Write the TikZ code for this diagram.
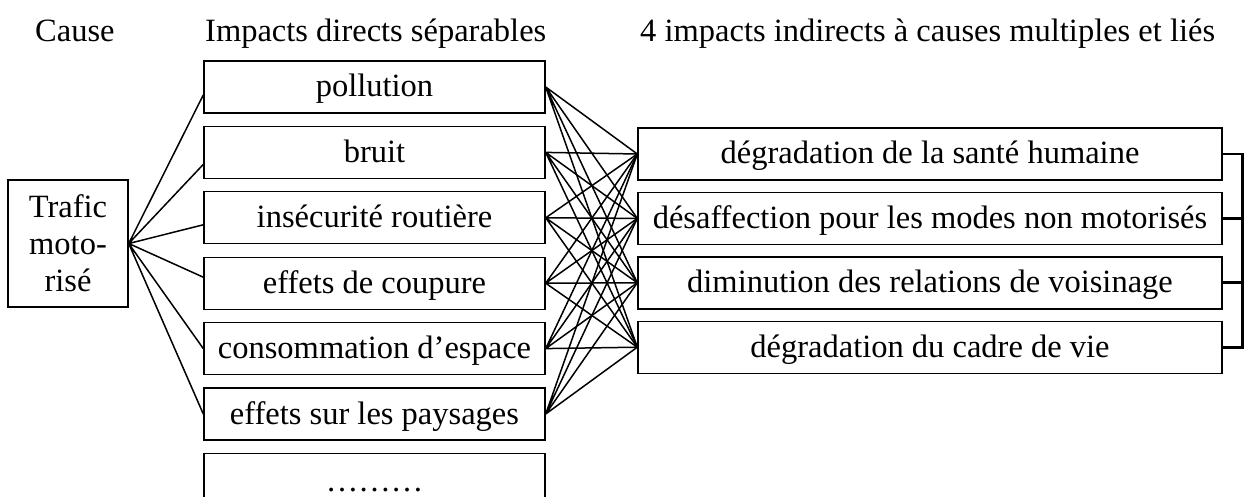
\documentclass[tikz,border=0pt]{standalone}
\usepackage{fontspec}
\setmainfont{Liberation Serif}
\usepackage{tikz}
\usetikzlibrary{positioning}

\begin{document}
\begin{tikzpicture}[x=1pt, y=-1pt, node distance=12pt,
    every node/.style={font=\fontsize{32.5}{37}\selectfont},
    cause/.style={rectangle, draw, line width=1.4pt, minimum width=120pt, minimum height=127pt, align=center, inner sep=0pt},
    direct/.style={rectangle, draw, line width=1.4pt, minimum width=341pt, minimum height=52pt, inner sep=0pt, text height=21pt, text depth=1pt},
    indirect/.style={rectangle, draw, line width=1.4pt, minimum width=584pt, minimum height=52pt, inner sep=0pt, text height=21pt, text depth=1pt},
    link/.style={line width=1.5pt},
    bracket/.style={line width=2.8pt}]

    \useasboundingbox (0,0) rectangle (1245,497);

    % headers
    \node[anchor=base west, inner sep=0pt] (hcause) at (35,42) {Cause};
    \node[anchor=base west, inner sep=0pt] (hdirect) at (205,42) {Impacts directs séparables};
    \node[anchor=base west, inner sep=0pt] (hindirect) at (640,42) {4 impacts indirects à causes multiples et liés};

    \node[cause] (trafic) at (68,243.5) {Trafic\\moto-\\risé};

    \node[direct] (pollution) at (374.5,87) {pollution};
    \node[direct, below=of pollution] (bruit) {bruit};
    \node[direct, below=of bruit] (insecurite) {insécurité routière};
    \node[direct, below=of insecurite] (coupure) {effets de coupure};
    \node[direct, below=of coupure] (espace) {consommation d’espace};
    \node[direct, below=of espace] (paysages) {effets sur les paysages};
    \node[direct, below=of paysages, minimum height=56pt] (autres) {………};

    \node[indirect] (sante) at (930,154) {dégradation de la santé humaine};
    \node[indirect, below=11pt of sante] (desaffection) {désaffection pour les modes non motorisés};
    \node[indirect, below=11pt of desaffection] (voisinage) {diminution des relations de voisinage};
    \node[indirect, below=11pt of voisinage] (cadre) {dégradation du cadre de vie};

    \draw[link] (trafic.east) -- ([yshift=-8pt]pollution.west) (trafic.east) -- ([yshift=-12pt]bruit.west)
        (trafic.east) -- ([yshift=-7pt]insecurite.west) (trafic.east) -- ([yshift=6pt]coupure.west)
        (trafic.east) -- (espace.west) (trafic.east) -- (paysages.west);

    \draw[link] (pollution.east) -- (sante.west) (pollution.east) -- (desaffection.west)
        (pollution.east) -- (voisinage.west) (pollution.east) -- (cadre.west);
    \draw[link] (bruit.east) -- (sante.west) (bruit.east) -- (desaffection.west)
        (bruit.east) -- (voisinage.west) (bruit.east) -- (cadre.west);
    \draw[link] (insecurite.east) -- (sante.west) (insecurite.east) -- (desaffection.west)
        (insecurite.east) -- (voisinage.west) (insecurite.east) -- (cadre.west);
    \draw[link] (coupure.east) -- (sante.west) (coupure.east) -- (desaffection.west)
        (coupure.east) -- (voisinage.west) (coupure.east) -- (cadre.west);
    \draw[link] (espace.east) -- (sante.west) (espace.east) -- (desaffection.west)
        (espace.east) -- (voisinage.west) (espace.east) -- (cadre.west);
    \draw[link] (paysages.east) -- (sante.west) (paysages.east) -- (desaffection.west)
        (paysages.east) -- (voisinage.west) (paysages.east) -- (cadre.west);

    % bracket joining the indirect impacts
    \draw[bracket] (sante.east) -| ([xshift=20pt]cadre.east) -- (cadre.east);
    \draw[bracket] (desaffection.east) -- ([xshift=20pt]desaffection.east);
    \draw[bracket] (voisinage.east) -- ([xshift=20pt]voisinage.east);

\end{tikzpicture}
\end{document}
